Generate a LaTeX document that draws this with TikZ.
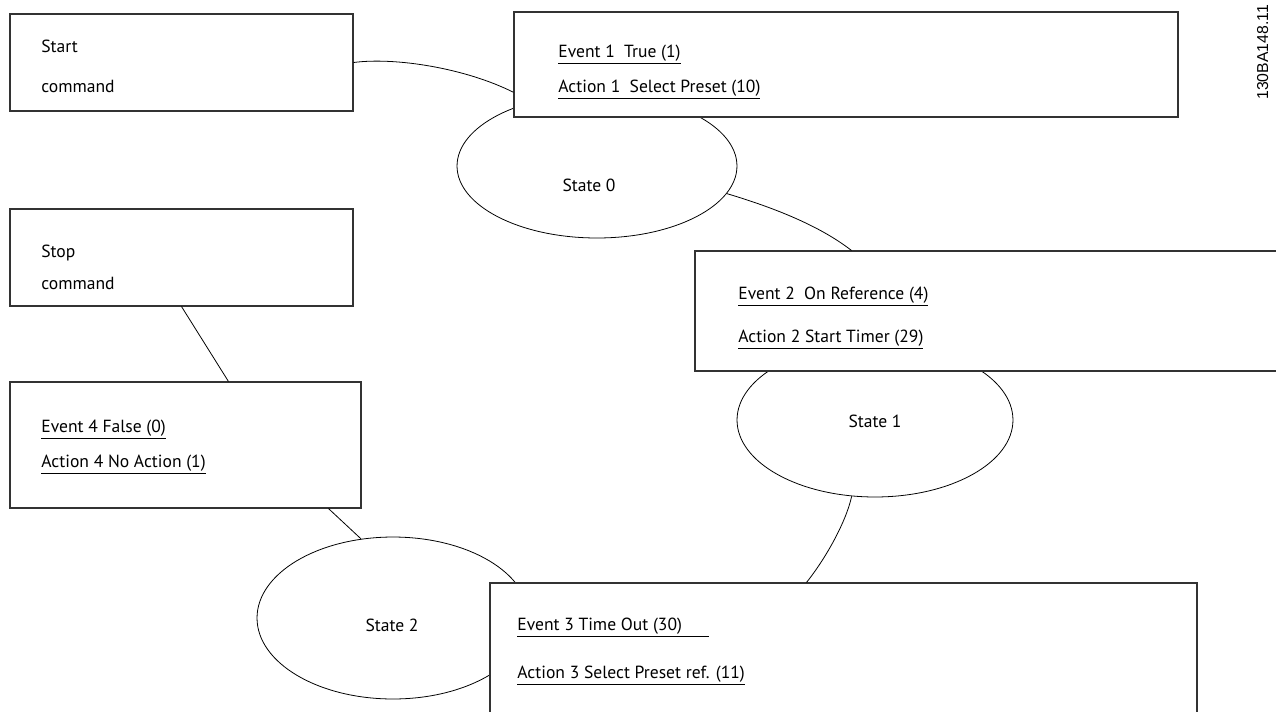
\documentclass[tikz,border=0pt]{standalone}
\usepackage{fontspec}
\setmainfont{PT Sans}
\newfontfamily\codefont{Liberation Sans}
\usetikzlibrary{shapes.geometric,fit,calc}

\tikzset{
    framebox/.style={draw=black!80, line width=0.6pt, fill=white, inner sep=0pt},
    statering/.style={draw, ellipse, inner sep=0pt},
    boxtext/.style={anchor=base west, inner sep=0pt, font=\fontsize{10}{12}\selectfont},
    statetext/.style={anchor=base, inner sep=0pt, font=\fontsize{10}{12}\selectfont},
}

\begin{document}
\begin{tikzpicture}[x=0.02cm, y=0.02cm, line width=0.45pt]
        \useasboundingbox (0,0) rectangle (1276,-711);
        \clip (0,0) rectangle (1276,-711);

        % States (drawn first, the boxes cover part of them)
        \node[statering, minimum width=5.6cm, minimum height=2.88cm] (s0) at (597,-166) {};
        \node[statering, minimum width=5.52cm, minimum height=3.08cm] (s1) at (875,-420) {};
        \node[statering, minimum width=5.44cm, minimum height=3.24cm] (s2) at (393,-618) {};

        % --- Commands ---
        \node[framebox, fit={(10,-14) (353,-111)}] (start) {};
        \node[boxtext] (starta) at (41,-52) {Start};
        \node[boxtext] (startb) at (41,-92) {command};

        \node[framebox, fit={(10,-209) (353,-306)}] (stop) {};
        \node[boxtext] (stopa) at (41,-257) {Stop};
        \node[boxtext] (stopb) at (41,-289) {command};

        % --- Event/Action boxes ---
        \node[framebox, fit={(514,-12) (1178,-117)}] (ev1) {};
        \node[boxtext] (ev1a) at (558,-57) {\underline{Event 1~~True (1)}};
        \node[boxtext] (ev1b) at (558,-92) {\underline{Action 1~~Select Preset (10)}};

        \node[framebox, fit={(695,-251) (1300,-371)}] (ev2) {};
        \node[boxtext] (ev2a) at (738,-299) {\underline{Event 2~~On Reference (4)}};
        \node[boxtext] (ev2b) at (738,-342) {\underline{Action 2 Start Timer (29)}};

        \node[framebox, fit={(490,-583) (1197,-730)}] (ev3) {};
        \node[boxtext] (ev3a) at (517,-630) {\underline{\makebox[3.84cm][l]{Event 3 Time Out (30)}}};
        \node[boxtext] (ev3b) at (517,-678) {\underline{Action 3 Select Preset ref. (11)}};

        \node[framebox, fit={(10,-382) (361,-508)}] (ev4) {};
        \node[boxtext] (ev4a) at (41,-432) {\underline{Event 4 False (0)}};
        \node[boxtext] (ev4b) at (41,-467) {\underline{Action 4 No Action (1)}};

        % State names
        \node[statetext] (s0t) at (589,-191) {State 0};
        \node[statetext] (s1t) at (875,-427) {State 1};
        \node[statetext] (s2t) at (392,-631) {State 2};

        % Drawing code
        \node[rotate=90, anchor=base west, inner sep=0pt, font=\codefont\fontsize{9}{11}\selectfont] (code) at (1268,-100) {130BA148.11};

        % --- Links ---
        \draw (start.east) .. controls (395,-57) and (465,-68) .. ($(ev1.north west)!0.762!(ev1.south west)$);
        \draw (s0.-12) .. controls (775,-208) and (820,-226) .. ($(ev2.north west)+(157,0)$);
        \draw (s1.-107) .. controls (846,-522) and (826,-558) .. ($(ev3.north west)+(317,0)$);
        \draw (stop.south) -- ($(ev4.north west)+(219,0)$);
        \draw ($(ev4.south west)+(319,0)$) -- (s2.112);

    \end{tikzpicture}
\end{document}
